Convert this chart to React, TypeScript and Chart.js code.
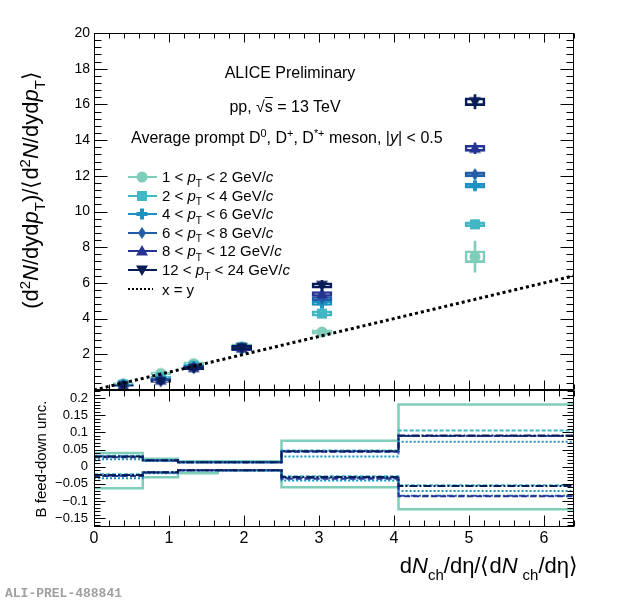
import { useEffect, useRef } from 'react';
import { Chart, registerables } from 'chart.js';

Chart.register(...registerables);

const FONT = "'Liberation Sans', Arial, Helvetica, sans-serif";

// axes
const xMin = 0;
const xMax = 6.4;
const xTicks = [0, 1, 2, 3, 4, 5, 6];
const yTopMin = 0;
const yTopMax = 20;
const yTopTicks = [2, 4, 6, 8, 10, 12, 14, 16, 18, 20];
const yBotMin = -0.176;
const yBotMax = 0.224;
const yBotTicks = [-0.15, -0.1, -0.05, 0, 0.05, 0.1, 0.15, 0.2];

// multiplicity classes, dNch/deta / <dNch/deta>
const multX = [0.39, 0.89, 1.33, 1.97, 3.04, 5.08];

// pT intervals (GeV/c)
const ptLow = ['1', '2', '4', '6', '8', '12'];
const ptHigh = ['2', '4', '6', '8', '12', '24'];
const colors = ['#7fcdbb', '#41b6c4', '#1d91c0', '#225ea8', '#253494', '#081d58'];
const markerKinds = ['circle', 'square', 'cross', 'diamond', 'up', 'down'];

// self-normalised yields
const yield1to2 = [0.36, 0.93, 1.48, 2.43, 3.25, 7.47];
const yield2to4 = [0.30, 0.72, 1.36, 2.38, 4.28, 9.28];
const yield4to6 = [0.27, 0.62, 1.30, 2.34, 4.86, 11.45];
const yield6to8 = [0.26, 0.60, 1.27, 2.33, 5.12, 12.08];
const yield8to12 = [0.25, 0.55, 1.25, 2.35, 5.38, 13.54];
const yield12to24 = [0.24, 0.48, 1.22, 2.38, 5.86, 16.15];

// statistical uncertainties
const stat1to2 = [0.02, 0.04, 0.05, 0.08, 0.10, 0.87];
const stat2to4 = [0.02, 0.04, 0.05, 0.08, 0.12, 0.25];
const stat4to6 = [0.02, 0.04, 0.05, 0.09, 0.14, 0.22];
const stat6to8 = [0.02, 0.04, 0.06, 0.10, 0.16, 0.25];
const stat8to12 = [0.02, 0.05, 0.07, 0.12, 0.20, 0.30];
const stat12to24 = [0.03, 0.06, 0.09, 0.15, 0.28, 0.40];

// systematic uncertainties (boxes)
const syst1to2 = [0.05, 0.08, 0.10, 0.15, 0.12, 0.33];
const syst2to4 = [0.03, 0.06, 0.08, 0.14, 0.15, 0.14];
const syst4to6 = [0.03, 0.05, 0.08, 0.13, 0.12, 0.14];
const syst6to8 = [0.03, 0.05, 0.08, 0.13, 0.12, 0.14];
const syst8to12 = [0.03, 0.05, 0.08, 0.14, 0.14, 0.17];
const syst12to24 = [0.03, 0.05, 0.08, 0.14, 0.15, 0.22];

// B feed-down uncertainty, lower bin edges
const fdEdges = [0, 0.65, 1.12, 1.65, 2.5, 4.06];
const fdUp1to2 = [0.040, 0.023, 0.016, 0.016, 0.076, 0.182];
const fdDown1to2 = [-0.063, -0.031, -0.019, -0.010, -0.060, -0.124];
const fdUp2to4 = [0.032, 0.019, 0.013, 0.013, 0.047, 0.106];
const fdDown2to4 = [-0.022, -0.016, -0.010, -0.010, -0.028, -0.054];
const fdUp4to6 = [0.022, 0.017, 0.012, 0.012, 0.030, 0.073];
const fdDown4to6 = [-0.034, -0.019, -0.011, -0.011, -0.040, -0.071];
const fdUp6to8 = [0.030, 0.018, 0.013, 0.013, 0.045, 0.090];
const fdDown6to8 = [-0.026, -0.017, -0.010, -0.010, -0.033, -0.085];
const fdUp8to12 = [0.028, 0.018, 0.013, 0.013, 0.044, 0.090];
const fdDown8to12 = [-0.027, -0.017, -0.010, -0.010, -0.035, -0.086];
const fdUp12to24 = [0.030, 0.019, 0.013, 0.013, 0.045, 0.091];
const fdDown12to24 = [-0.024, -0.016, -0.010, -0.010, -0.030, -0.056];

const yields = [yield1to2, yield2to4, yield4to6, yield6to8, yield8to12, yield12to24];
const stats = [stat1to2, stat2to4, stat4to6, stat6to8, stat8to12, stat12to24];
const systs = [syst1to2, syst2to4, syst4to6, syst6to8, syst8to12, syst12to24];
const fdUps = [fdUp1to2, fdUp2to4, fdUp4to6, fdUp6to8, fdUp8to12, fdUp12to24];
const fdDowns = [fdDown1to2, fdDown2to4, fdDown4to6, fdDown6to8, fdDown8to12, fdDown12to24];
const fdDashes = [[], [4, 2], [2, 2], [6, 2, 2, 2], [6, 3], [8, 2, 2, 2]];

const LEG_Y0 = 177;
const LEG_DY = 18.6;

function makeMarker(kind: string, color: string): HTMLCanvasElement {
  const c = document.createElement('canvas');
  c.width = 14;
  c.height = 14;
  const g = c.getContext('2d')!;
  const m = 7;
  g.fillStyle = color;
  g.beginPath();
  if (kind === 'circle') g.arc(m, m, 5.5, 0, Math.PI * 2);
  else if (kind === 'square') g.rect(m - 5, m - 5, 10, 10);
  else if (kind === 'cross') {
    g.rect(m - 5.5, m - 2, 11, 4);
    g.rect(m - 2, m - 5.5, 4, 11);
  } else if (kind === 'diamond') {
    g.moveTo(m, m - 6);
    g.lineTo(m + 4, m);
    g.lineTo(m, m + 6);
    g.lineTo(m - 4, m);
    g.closePath();
  } else if (kind === 'up') {
    g.moveTo(m, m - 6);
    g.lineTo(m + 6, m + 4.5);
    g.lineTo(m - 6, m + 4.5);
    g.closePath();
  } else {
    g.moveTo(m, m + 6);
    g.lineTo(m + 6, m - 4.5);
    g.lineTo(m - 6, m - 4.5);
    g.closePath();
  }
  g.fill();
  return c;
}

// ROOT-like frame with inward ticks on all four sides of both pads
const framePlugin = {
  id: 'rootFrame',
  afterDatasetsDraw(chart: any) {
    const { ctx, scales } = chart;
    const xs = scales.x;
    const pads = [
      { ys: scales.y, lo: 0, hi: 20, step: 0.4, major: 2, yMaj: 13, yMin: 7, xMaj: 9, xMin: 5 },
      { ys: scales.y2, lo: -0.17, hi: 0.22, step: 0.01, major: 0.05, yMaj: 11, yMin: 6, xMaj: 11, xMin: 6 },
    ];
    ctx.save();
    ctx.strokeStyle = '#000';
    ctx.lineWidth = 1;
    for (const p of pads) {
      const L = Math.round(xs.left) + 0.5;
      const R = Math.round(xs.right) - 0.5;
      const T = Math.round(p.ys.top) + 0.5;
      const B = Math.round(p.ys.bottom) - 0.5;
      ctx.strokeRect(L, T, R - L, B - T);
      ctx.beginPath();
      const n = Math.round((p.hi - p.lo) / p.step);
      for (let i = 0; i <= n; i++) {
        const v = p.lo + i * p.step;
        const r = v / p.major;
        const len = Math.abs(r - Math.round(r)) < 1e-6 ? p.yMaj : p.yMin;
        const py = Math.round(p.ys.getPixelForValue(v)) + 0.5;
        if (py <= T || py >= B) continue;
        ctx.moveTo(L, py);
        ctx.lineTo(L + len, py);
        ctx.moveTo(R, py);
        ctx.lineTo(R - len, py);
      }
      for (let i = 0; i <= 32; i++) {
        const len = i % 5 === 0 ? p.xMaj : p.xMin;
        const px = Math.round(xs.getPixelForValue(i * 0.2)) + 0.5;
        ctx.moveTo(px, T);
        ctx.lineTo(px, T + len);
        ctx.moveTo(px, B);
        ctx.lineTo(px, B - len);
      }
      ctx.stroke();
    }
    ctx.restore();
  },
};

function Sup({ children }: { children: any }) {
  return <span style={{ fontSize: '0.68em', position: 'relative', top: '-0.55em' }}>{children}</span>;
}

function Sub({ children, gap = 0 }: { children: any; gap?: number }) {
  return (
    <span style={{ fontSize: '0.68em', position: 'relative', top: '0.45em', marginLeft: gap }}>{children}</span>
  );
}

export default function App() {
  const canvasRef = useRef<HTMLCanvasElement>(null);
  const chartRef = useRef<Chart | null>(null);

  useEffect(() => {
    if (!canvasRef.current) return;
    if (chartRef.current) chartRef.current.destroy();
    const ctx = canvasRef.current.getContext('2d');
    if (!ctx) return;

    const markerImgs = markerKinds.map((k, i) => makeMarker(k, colors[i]));
    const datasets: any[] = [];

    yields.forEach((vals, s) => {
      const base = 100 - 10 * s;
      datasets.push({
        type: 'bar',
        yAxisID: 'y',
        order: base + 2,
        data: multX.map((x, k) => ({ x, y: [vals[k] - systs[s][k], vals[k] + systs[s][k]] })),
        backgroundColor: 'rgba(0,0,0,0)',
        borderColor: colors[s],
        borderWidth: 2,
        borderSkipped: false,
        grouped: false,
        barThickness: 20,
        maxBarThickness: 20,
      });
      datasets.push({
        type: 'bar',
        yAxisID: 'y',
        order: base + 1,
        data: multX.map((x, k) => ({ x, y: [vals[k] - stats[s][k], vals[k] + stats[s][k]] })),
        backgroundColor: colors[s],
        borderWidth: 0,
        grouped: false,
        barThickness: 2,
        maxBarThickness: 2,
      });
      datasets.push({
        type: 'scatter',
        yAxisID: 'y',
        order: base,
        data: multX.map((x, k) => ({ x, y: vals[k] })),
        pointStyle: markerImgs[s],
        pointRadius: 6,
        pointHoverRadius: 6,
        showLine: false,
      });
    });

    // x = y reference
    datasets.push({
      type: 'line',
      yAxisID: 'y',
      order: 0,
      data: [
        { x: xMin, y: xMin },
        { x: xMax, y: xMax },
      ],
      borderColor: '#000',
      borderWidth: 3,
      borderDash: [3, 3],
      pointRadius: 0,
    });

    // feed-down uncertainty steps
    const stepX = [...fdEdges, xMax];
    [fdUps, fdDowns].forEach((group) => {
      group.forEach((arr, s) => {
        datasets.push({
          type: 'line',
          yAxisID: 'y2',
          order: 200 - 10 * s,
          stepped: true,
          data: stepX.map((x, k) => ({ x, y: arr[Math.min(k, arr.length - 1)] })),
          borderColor: colors[s],
          borderWidth: s === 0 ? 2.5 : 2,
          borderDash: fdDashes[s],
          pointRadius: 0,
          fill: false,
        });
      });
    });

    const legendPlugin = {
      id: 'legendSymbols',
      afterDraw(chart: any) {
        const c = chart.ctx;
        c.save();
        markerImgs.forEach((img, i) => {
          const y = Math.round(LEG_Y0 + LEG_DY * i);
          c.strokeStyle = colors[i];
          c.lineWidth = 2;
          c.beginPath();
          c.moveTo(128, y);
          c.lineTo(157, y);
          c.stroke();
          c.drawImage(img, 142 - img.width / 2, y - img.height / 2);
        });
        const y = Math.round(LEG_Y0 + LEG_DY * 6);
        c.strokeStyle = '#000';
        c.lineWidth = 2;
        c.setLineDash([2, 2]);
        c.beginPath();
        c.moveTo(128, y);
        c.lineTo(153, y);
        c.stroke();
        c.restore();
      },
    };

    chartRef.current = new Chart(ctx, {
      type: 'scatter',
      data: { datasets },
      plugins: [framePlugin, legendPlugin],
      options: {
        animation: false,
        responsive: false,
        events: [],
        layout: { padding: { left: 0, right: 46, top: 33, bottom: 40 } },
        plugins: { legend: { display: false }, tooltip: { enabled: false } },
        scales: {
          x: {
            type: 'linear',
            min: xMin,
            max: xMax,
            offset: false,
            grid: { display: false, drawTicks: false },
            border: { display: false },
            afterBuildTicks: (s: any) => {
              s.ticks = xTicks.map((v) => ({ value: v }));
            },
            afterFit: (s: any) => {
              s.height = 36;
            },
            ticks: {
              font: { family: FONT, size: 16 },
              color: '#000',
              padding: 2,
              maxRotation: 0,
              autoSkip: false,
              callback: (v: any) => String(v),
            },
          },
          y2: {
            type: 'linear',
            position: 'left',
            stack: 'pads',
            stackWeight: 137,
            min: yBotMin,
            max: yBotMax,
            grid: { display: false, drawTicks: false },
            border: { display: false },
            afterBuildTicks: (s: any) => {
              s.ticks = yBotTicks.map((v) => ({ value: v }));
            },
            afterFit: (s: any) => {
              s.width = 94;
            },
            ticks: {
              font: { family: FONT, size: 13 },
              color: '#000',
              padding: 6,
              autoSkip: false,
              callback: (v: any) => {
                const r = Math.round(v * 100) / 100;
                return r < 0 ? '\u2212' + String(-r) : String(r);
              },
            },
          },
          y: {
            type: 'linear',
            position: 'left',
            stack: 'pads',
            stackWeight: 357,
            min: yTopMin,
            max: yTopMax,
            grid: { display: false, drawTicks: false },
            border: { display: false },
            afterBuildTicks: (s: any) => {
              s.ticks = yTopTicks.map((v) => ({ value: v }));
            },
            afterFit: (s: any) => {
              s.width = 94;
            },
            ticks: {
              font: { family: FONT, size: 14 },
              color: '#000',
              padding: 4,
              autoSkip: false,
              callback: (v: any) => String(v),
            },
          },
        },
      } as any,
    });

    return () => {
      if (chartRef.current) {
        chartRef.current.destroy();
        chartRef.current = null;
      }
    };
  }, []);

  const abs = (left: number, top: number, extra: any = {}) => ({
    position: 'absolute' as const,
    left,
    top,
    whiteSpace: 'nowrap' as const,
    lineHeight: 1,
    ...extra,
  });

  return (
    <div style={{ position: 'absolute', left: 0, top: 0, width: 620, height: 603, background: '#fff', fontFamily: FONT, color: '#000' }}>
      <canvas ref={canvasRef} width={620} height={603} style={{ position: 'absolute', left: 0, top: 0 }} />

      <div style={abs(290, 73, { fontSize: 16, transform: 'translate(-50%, -50%)' })}>ALICE Preliminary</div>
      <div style={abs(285, 107, { fontSize: 16, transform: 'translate(-50%, -50%)' })}>
        pp, √<span style={{ textDecoration: 'overline' }}>s</span> = 13 TeV
      </div>
      <div style={abs(131, 138, { fontSize: 16, transform: 'translate(0, -50%)' })}>
        Average prompt D<Sup>0</Sup>, D<Sup>+</Sup>, D<Sup>*+</Sup> meson, |<i>y</i>| &lt; 0.5
      </div>

      {ptLow.map((lo, i) => (
        <div key={lo} style={abs(162, LEG_Y0 + LEG_DY * i, { fontSize: 15, transform: 'translate(0, -50%)' })}>
          {lo} &lt; <i>p</i>
          <Sub>T</Sub> &lt; {ptHigh[i]} GeV/<i>c</i>
        </div>
      ))}
      <div style={abs(162, LEG_Y0 + LEG_DY * 6, { fontSize: 15, transform: 'translate(0, -50%)' })}>x = y</div>

      <div style={abs(31, 190, { fontSize: 22, transform: 'translate(-50%, -50%) rotate(-90deg)' })}>
        (d<Sup>2</Sup>
        <i>N</i>/dyd<i>p</i>
        <Sub>T</Sub>)/⟨d<Sup>2</Sup>
        <i>N</i>/dyd<i>p</i>
        <Sub>T</Sub>⟩
      </div>
      <div style={abs(40, 459, { fontSize: 15, transform: 'translate(-50%, -50%) rotate(-90deg)' })}>B feed-down unc.</div>

      <div style={abs(578, 566, { fontSize: 22, transform: 'translate(-100%, -50%)' })}>
        d<i>N</i>
        <Sub>ch</Sub>/dη/⟨d<i>N</i>
        <Sub gap={5}>ch</Sub>/dη⟩
      </div>

      <div
        style={abs(5, 593, {
          fontSize: 13,
          fontWeight: 'bold',
          color: '#a0a0a0',
          fontFamily: "'Liberation Mono', 'DejaVu Sans Mono', monospace",
          transform: 'translate(0, -50%)',
        })}
      >
        ALI-PREL-488841
      </div>
    </div>
  );
}
